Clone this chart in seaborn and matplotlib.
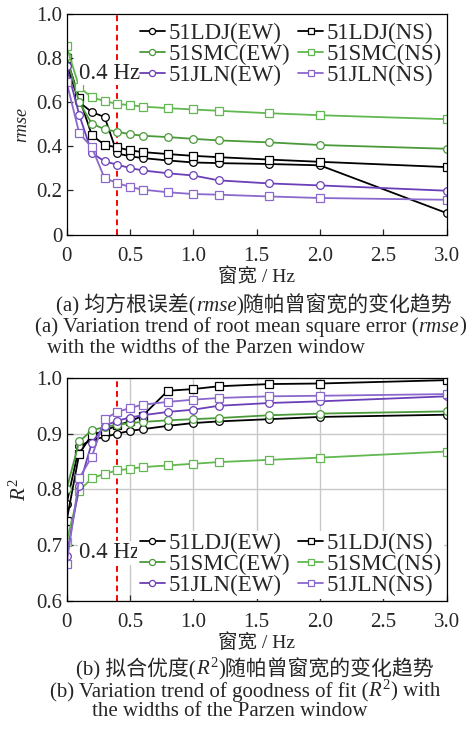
import pandas as pd
import matplotlib
matplotlib.use("Agg")
import matplotlib.pyplot as plt
import seaborn as sns
from matplotlib.offsetbox import TextArea, HPacker, AnchoredOffsetbox

# =====================================
# Data
# =====================================

width_hz = [0, 0.1, 0.2, 0.3, 0.4, 0.5, 0.6, 0.8, 1.0, 1.2, 1.6, 2.0, 3.0]

series_names = ["51LDJ(EW)", "51LDJ(NS)", "51SMC(EW)", "51SMC(NS)", "51JLN(EW)", "51JLN(NS)"]

rmse_ldj_ew = [0.770, 0.600, 0.555, 0.533, 0.368, 0.355, 0.347, 0.336, 0.327, 0.324, 0.320, 0.314, 0.098]
rmse_ldj_ns = [0.800, 0.620, 0.450, 0.407, 0.395, 0.382, 0.374, 0.365, 0.357, 0.351, 0.340, 0.330, 0.306]
rmse_smc_ew = [0.810, 0.600, 0.502, 0.478, 0.466, 0.455, 0.448, 0.442, 0.434, 0.427, 0.418, 0.406, 0.389]
rmse_smc_ns = [0.853, 0.668, 0.622, 0.605, 0.592, 0.587, 0.580, 0.573, 0.567, 0.561, 0.550, 0.541, 0.523]
rmse_jln_ew = [0.763, 0.543, 0.370, 0.332, 0.317, 0.302, 0.291, 0.278, 0.268, 0.246, 0.232, 0.223, 0.199]
rmse_jln_ns = [0.692, 0.460, 0.395, 0.256, 0.234, 0.216, 0.204, 0.192, 0.184, 0.181, 0.173, 0.166, 0.158]

r2_ldj_ew = [0.774, 0.877, 0.889, 0.894, 0.900, 0.905, 0.908, 0.914, 0.919, 0.922, 0.926, 0.930, 0.934]
r2_ldj_ns = [0.743, 0.864, 0.898, 0.905, 0.915, 0.922, 0.932, 0.977, 0.980, 0.985, 0.989, 0.990, 0.996]
r2_smc_ew = [0.800, 0.886, 0.906, 0.912, 0.916, 0.919, 0.921, 0.924, 0.926, 0.928, 0.933, 0.936, 0.940]
r2_smc_ns = [0.706, 0.798, 0.820, 0.828, 0.834, 0.837, 0.840, 0.843, 0.846, 0.849, 0.853, 0.857, 0.868]
r2_jln_ew = [0.680, 0.806, 0.884, 0.914, 0.923, 0.929, 0.933, 0.939, 0.943, 0.950, 0.955, 0.958, 0.967]
r2_jln_ns = [0.666, 0.820, 0.859, 0.926, 0.939, 0.946, 0.952, 0.957, 0.961, 0.964, 0.967, 0.968, 0.971]

rmse_values = [rmse_ldj_ew, rmse_ldj_ns, rmse_smc_ew, rmse_smc_ns, rmse_jln_ew, rmse_jln_ns]
r2_values = [r2_ldj_ew, r2_ldj_ns, r2_smc_ew, r2_smc_ns, r2_jln_ew, r2_jln_ns]

colors = ["#000000", "#000000", "#4a9a3a", "#62b850", "#6a3fb8", "#8a68cc"]
markers = ["o", "s", "o", "s", "o", "s"]

# =====================================
# Style
# =====================================

sns.set_style("ticks")
plt.rcParams["font.family"] = ["Liberation Serif", "Noto Sans CJK SC"]
plt.rcParams["mathtext.fontset"] = "custom"
plt.rcParams["mathtext.rm"] = "Liberation Serif"
plt.rcParams["mathtext.it"] = "Liberation Serif:italic"
plt.rcParams["axes.linewidth"] = 0.9
plt.rcParams["xtick.direction"] = "in"
plt.rcParams["ytick.direction"] = "in"

FS = 15      # ticks / captions
LFS = 16.5   # legend / annotation
XFS = 14     # x axis label

fig = plt.figure(figsize=(4.72, 7.31), dpi=100)
ax1 = fig.add_axes([0.141, 0.679, 0.805, 0.302])
ax2 = fig.add_axes([0.141, 0.178, 0.805, 0.305])


def draw_panel(ax, values):
    for name, vals, c, m in zip(series_names, values, colors, markers):
        df = pd.DataFrame({"x": width_hz, "y": vals})
        sns.lineplot(data=df, x="x", y="y", ax=ax, color=c, marker=m,
                     markersize=5.5, markerfacecolor="white", markeredgecolor=c,
                     markeredgewidth=0.9, linewidth=1.3, label=name)
    handles, labels = ax.get_legend_handles_labels()
    order = [0, 2, 4, 1, 3, 5]
    return [handles[i] for i in order], [labels[i] for i in order]


def caption(x, y, parts, ha="center"):
    boxes = []
    for txt, style in parts:
        boxes.append(TextArea(txt, textprops=dict(fontsize=FS, fontstyle=style)))
    pack = HPacker(children=boxes, align="baseline", pad=0, sep=0)
    loc = {"center": "center", "left": "center left"}[ha]
    ab = AnchoredOffsetbox(loc=loc, child=pack, pad=0, borderpad=0, frameon=False,
                           bbox_to_anchor=(x / 472, 1 - y / 731),
                           bbox_transform=fig.transFigure)
    fig.add_artist(ab)


leg_kw = dict(ncol=2, fontsize=LFS, handlelength=1.1, handletextpad=0.15,
              columnspacing=0.35, labelspacing=0.0, markerscale=0.8)

# =====================================
# (a) rmse
# =====================================

h, l = draw_panel(ax1, rmse_values)
ax1.axvline(0.4, color="red", ls=(0, (3, 2)), lw=1.4, zorder=1)
ax1.set_xlim(0, 3.0)
ax1.set_ylim(0, 1.0)
ax1.set_yticks([0, 0.2, 0.4, 0.6, 0.8, 1.0])
ax1.set_yticklabels(["0", "0.2", "0.4", "0.6", "0.8", "1.0"])
ax1.set_xticks([0, 0.5, 1.0, 1.5, 2.0, 2.5, 3.0])
ax1.set_xticklabels(["0", "0.5", "1.0", "1.5", "2.0", "2.5", "3.0"])
ax1.set_xlabel("窗宽 / Hz", fontsize=XFS, labelpad=0.5)
ax1.set_ylabel("rmse", fontsize=13, fontstyle="italic", labelpad=4)
ax1.text(0.34, 0.73, "0.4 Hz", fontsize=LFS, ha="center", va="center",
         bbox=dict(facecolor="white", edgecolor="none", pad=1), zorder=5)
ax1.legend(h, l, loc="upper right", bbox_to_anchor=(1.0, 0.98), frameon=False,
           borderaxespad=0.1, borderpad=0.1, **leg_kw)

# =====================================
# (b) R2
# =====================================

h, l = draw_panel(ax2, r2_values)
ax2.axvline(0.4, color="red", ls=(0, (3, 2)), lw=1.4, zorder=1)
ax2.set_xlim(0, 3.0)
ax2.set_ylim(0.6, 1.0)
ax2.set_yticks([0.6, 0.7, 0.8, 0.9, 1.0])
ax2.set_yticklabels(["0.6", "0.7", "0.8", "0.9", "1.0"])
ax2.set_xticks([0, 0.5, 1.0, 1.5, 2.0, 2.5, 3.0])
ax2.set_xticklabels(["0", "0.5", "1.0", "1.5", "2.0", "2.5", "3.0"])
ax2.grid(True, color="#c8c8c8", lw=1.0)
ax2.set_axisbelow(True)
ax2.set_xlabel("窗宽 / Hz", fontsize=XFS, labelpad=0.5)
ax2.set_ylabel(r"$\mathit{R}^{\mathrm{2}}$", fontsize=FS, labelpad=4)
ax2.text(0.34, 0.686, "0.4 Hz", fontsize=LFS, ha="center", va="center",
         bbox=dict(facecolor="white", edgecolor="none", pad=1), zorder=5)
leg = ax2.legend(h, l, loc="lower right", bbox_to_anchor=(1.0, 0.0), frameon=True,
                 borderaxespad=0.1, borderpad=0.1, framealpha=1.0, **leg_kw)
leg.get_frame().set_edgecolor("none")

for ax in (ax1, ax2):
    ax.tick_params(labelsize=FS, length=4, width=0.9)
    ax.tick_params(axis="x", pad=9)
    ax.tick_params(axis="y", pad=3)
    for s in ax.spines.values():
        s.set_visible(True)
        s.set_color("black")

# =====================================
# Captions
# =====================================

caption(254, 305, [("(a) 均方根误差(", "normal"), ("rmse", "italic"), (")随帕曾窗宽的变化趋势", "normal")])
caption(35, 327, [("(a) Variation trend of root mean square error (", "normal"),
                  ("rmse", "italic"), (")", "normal")], ha="left")
caption(47, 348, [("with the widths of the Parzen window", "normal")], ha="left")

caption(255, 669, [("(b) 拟合优度(", "normal"), (r"$\mathit{R}^{\mathrm{2}}$", "normal"),
                   (")随帕曾窗宽的变化趋势", "normal")])
caption(50, 691, [("(b) Variation trend of goodness of fit (", "normal"),
                  (r"$\mathit{R}^{\mathrm{2}}$", "normal"), (") with", "normal")], ha="left")
caption(92, 712, [("the widths of the Parzen window", "normal")], ha="left")

fig.savefig("out.png", dpi=100)
